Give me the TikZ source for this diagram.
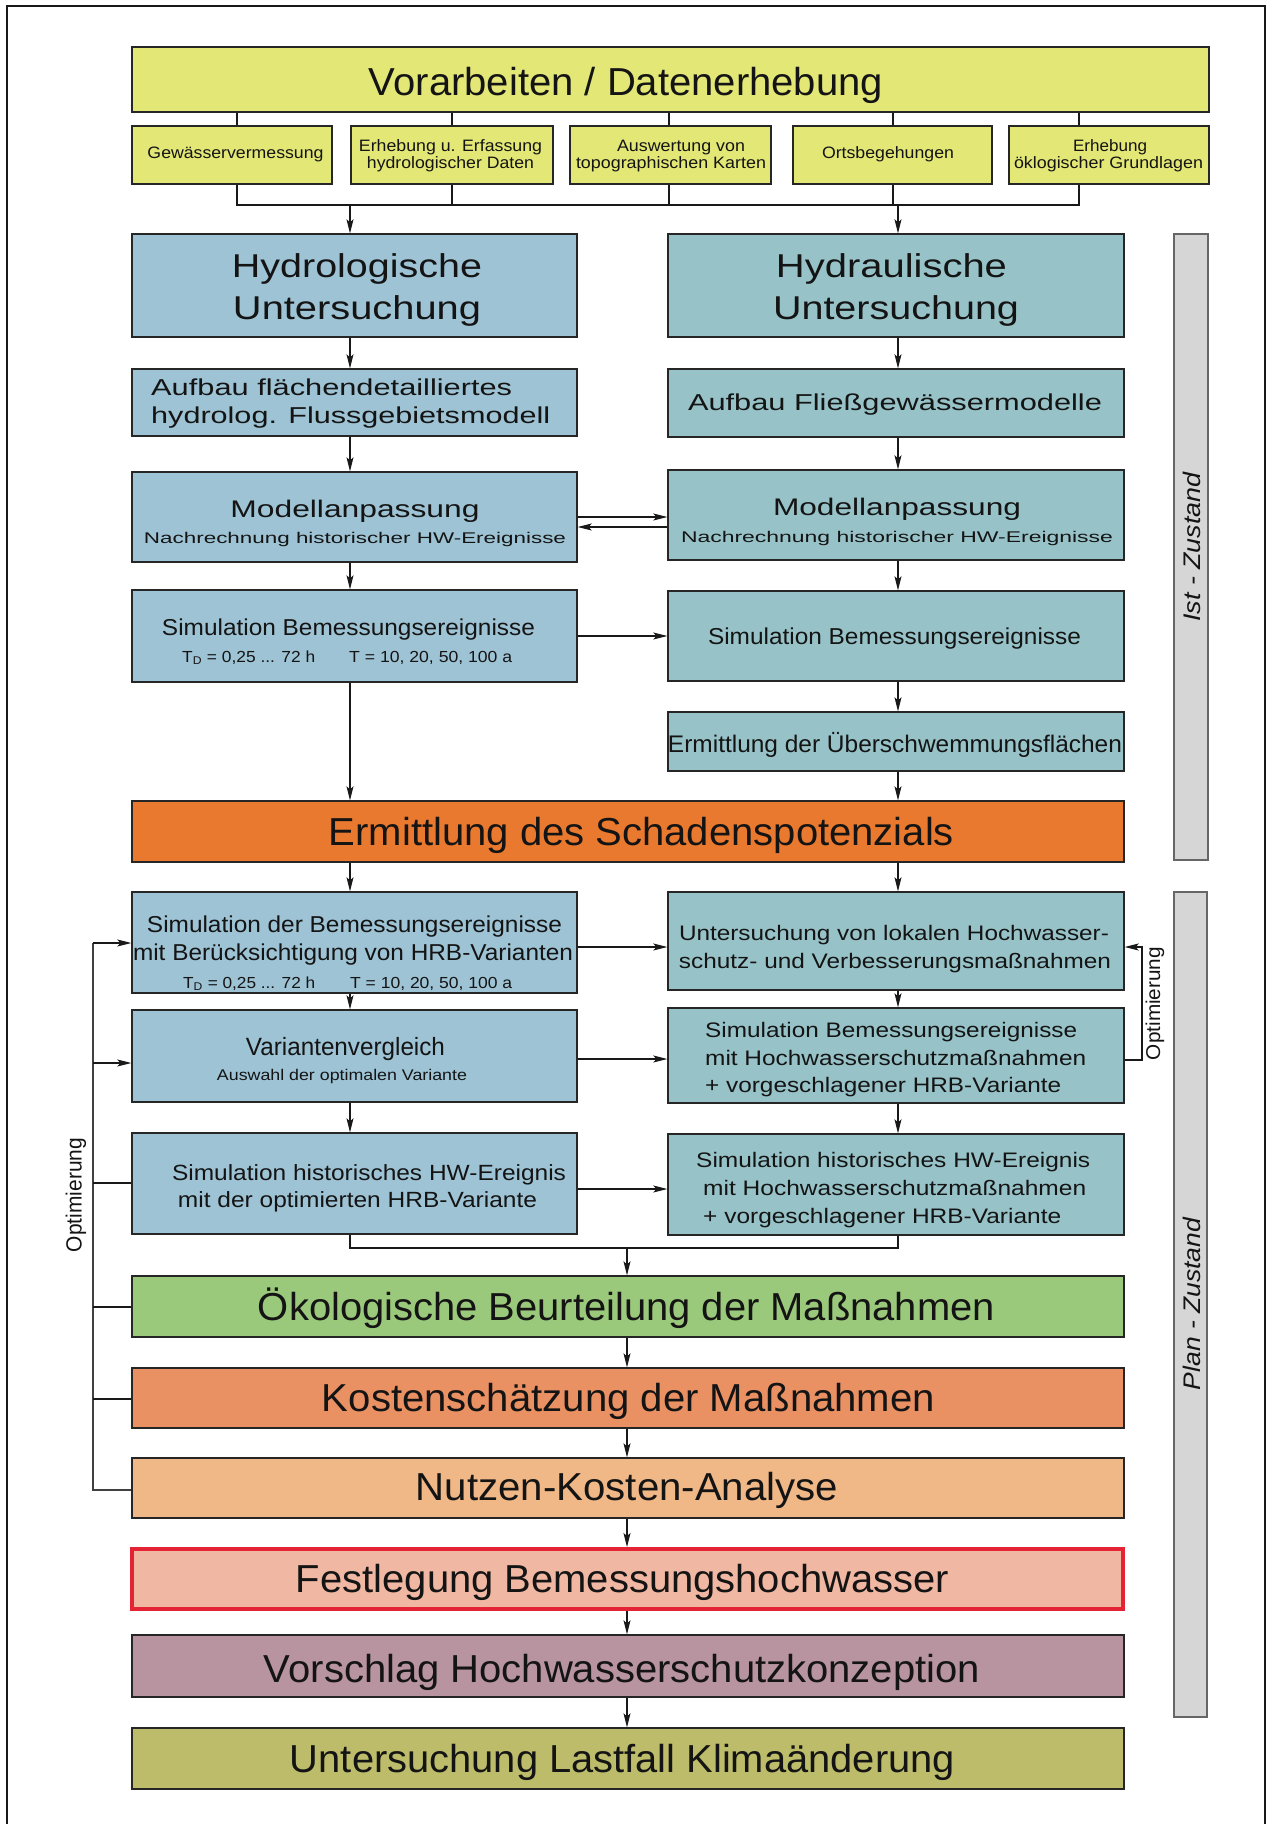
\documentclass[tikz,border=0pt]{standalone}
\usepackage{fontspec}
\setmainfont{Liberation Sans}
\usepackage{graphicx}
\usetikzlibrary{arrows.meta,calc}
\definecolor{cYel}{RGB}{227,231,118}
\definecolor{cBL}{RGB}{157,195,212}
\definecolor{cBR}{RGB}{151,195,200}
\definecolor{cSch}{RGB}{233,121,46}
\definecolor{cOko}{RGB}{155,201,123}
\definecolor{cKos}{RGB}{234,145,100}
\definecolor{cNut}{RGB}{240,184,135}
\definecolor{cFes}{RGB}{240,183,163}
\definecolor{cRed}{RGB}{228,35,52}
\definecolor{cVor}{RGB}{183,148,160}
\definecolor{cLst}{RGB}{189,188,106}
\definecolor{cGray}{RGB}{214,214,214}
\newcommand{\fw}[2]{\resizebox{#1pt}{\height}{#2}}
\newcommand{\txc}[5]{\node[tx,anchor=base,font=\fontsize{#3}{#3}\selectfont] (#1) at (#2) {\fw{#4}{#5}};}
\newcommand{\txw}[5]{\node[tx,anchor=base west,font=\fontsize{#3}{#3}\selectfont] (#1) at (#2) {\fw{#4}{#5}};}
\begin{document}
\begin{tikzpicture}[x=1pt,y=-1pt,
  box/.style={draw=black!85,line width=1.4pt,rectangle,inner sep=0pt,anchor=center},
  tx/.style={inner sep=0pt,text=black!92},
  arr/.style={-{Stealth[length=14pt,width=7pt,inset=3pt]},line width=1.1pt,draw=black!90},
  ln/.style={line width=1.1pt,draw=black!90},
  bar/.style={draw=black!60,line width=1.2pt,fill=cGray,rectangle,inner sep=0pt,anchor=center}]
\useasboundingbox (0,0) rectangle (1269,1824);
\fill[white] (0,0) rectangle (1269,1824);
% frame
\draw[line width=2.5pt,black!90] (7,1830) -- (7,6) -- (1265,6) -- (1265,1830);

% gray bars
\node[bar,minimum width=34pt,minimum height=626pt] (ist) at (1191,547) {};
\node[bar,minimum width=33pt,minimum height=825pt] (plan) at (1190.5,1304.5) {};
\node[tx,rotate=90,font=\fontsize{24}{24}\selectfont\itshape] (tist) at (1192,547) {\fw{149}{Ist - Zustand}};
\node[tx,rotate=90,font=\fontsize{24}{24}\selectfont\itshape] (tplan) at (1192,1304) {\fw{172}{Plan - Zustand}};

% boxes
\node[box,fill=cYel,minimum width=1077pt,minimum height=65pt] (vor) at (670.5,79.5) {};
\node[box,fill=cYel,minimum width=200pt,minimum height=58pt] (s1) at (232,155) {};
\node[box,fill=cYel,minimum width=202pt,minimum height=58pt] (s2) at (452,155) {};
\node[box,fill=cYel,minimum width=201pt,minimum height=58pt] (s3) at (670.5,155) {};
\node[box,fill=cYel,minimum width=199pt,minimum height=58pt] (s4) at (892.5,155) {};
\node[box,fill=cYel,minimum width=200pt,minimum height=58pt] (s5) at (1109,155) {};
\node[box,fill=cBL,minimum width=445pt,minimum height=103pt] (hyl) at (354.5,285.5) {};
\node[box,fill=cBR,minimum width=456pt,minimum height=103pt] (hyr) at (896,285.5) {};
\node[box,fill=cBL,minimum width=445pt,minimum height=67pt] (aul) at (354.5,402.5) {};
\node[box,fill=cBR,minimum width=456pt,minimum height=68pt] (aur) at (896,403) {};
\node[box,fill=cBL,minimum width=445pt,minimum height=90pt] (mal) at (354.5,517) {};
\node[box,fill=cBR,minimum width=456pt,minimum height=90pt] (mar) at (896,515) {};
\node[box,fill=cBL,minimum width=445pt,minimum height=92pt] (sbl) at (354.5,636) {};
\node[box,fill=cBR,minimum width=456pt,minimum height=90pt] (sbr) at (896,636) {};
\node[box,fill=cBR,minimum width=456pt,minimum height=59pt] (ueb) at (896,741.5) {};
\node[box,fill=cSch,minimum width=992pt,minimum height=61pt] (sch) at (628,831.5) {};
\node[box,fill=cBL,minimum width=445pt,minimum height=101pt] (hrb) at (354.5,942.5) {};
\node[box,fill=cBR,minimum width=456pt,minimum height=98pt] (unt) at (896,941) {};
\node[box,fill=cBL,minimum width=445pt,minimum height=92pt] (var) at (354.5,1056) {};
\node[box,fill=cBR,minimum width=456pt,minimum height=95pt] (shw) at (896,1055.5) {};
\node[box,fill=cBL,minimum width=445pt,minimum height=101pt] (shl) at (354.5,1183.5) {};
\node[box,fill=cBR,minimum width=456pt,minimum height=101pt] (shr) at (896,1184.5) {};
\node[box,fill=cOko,minimum width=992pt,minimum height=61pt] (oko) at (628,1306.5) {};
\node[box,fill=cKos,minimum width=992pt,minimum height=60pt] (kos) at (628,1398) {};
\node[box,fill=cNut,minimum width=992pt,minimum height=60pt] (nut) at (628,1488) {};
\node[box,fill=cFes,draw=cRed,line width=4pt,minimum width=991pt,minimum height=60pt] (fes) at (627.5,1579) {};
\node[box,fill=cVor,minimum width=992pt,minimum height=62pt] (vsc) at (628,1666) {};
\node[box,fill=cLst,minimum width=992pt,minimum height=61pt] (lst) at (628,1758.5) {};

% texts
\txc{tvor}{626,95}{39}{514}{Vorarbeiten / Datenerhebung}
\txc{ts1}{235.5,158.5}{16.5}{176}{Gewässervermessung}
\txc{ts2a}{450.5,151.7}{16.5}{183}{Erhebung u. Erfassung}
\txc{ts2b}{450.5,168.3}{16.5}{167}{hydrologischer Daten}
\txc{ts3a}{681,151.7}{16.5}{128}{Auswertung von}
\txc{ts3b}{671,168.3}{16.5}{190}{topographischen Karten}
\txc{ts4}{888,158.5}{16.5}{132}{Ortsbegehungen}
\txc{ts5a}{1110,151.7}{16.5}{74}{Erhebung}
\txc{ts5b}{1108.5,168.3}{16.5}{189}{öklogischer Grundlagen}

\txc{thyla}{357,277}{33}{250}{Hydrologische}
\txc{thylb}{357,319.5}{33}{248}{Untersuchung}
\txc{thyra}{891.5,277}{33}{231}{Hydraulische}
\txc{thyrb}{896,319.5}{33}{246}{Untersuchung}

\txw{taula}{151,395}{23}{361}{Aufbau flächendetailliertes}
\txw{taulb}{151,423}{23}{399}{hydrolog. Flussgebietsmodell}
\txc{taur}{895,410}{23}{414}{Aufbau Fließgewässermodelle}

\txc{tmala}{355,517}{24}{249}{Modellanpassung}
\txc{tmalb}{355,543}{15.5}{422}{Nachrechnung historischer HW-Ereignisse}
\txc{tmara}{897,515}{24}{248}{Modellanpassung}
\txc{tmarb}{897,542}{15.5}{432}{Nachrechnung historischer HW-Ereignisse}

\txc{tsbla}{348.5,635}{23}{373}{Simulation Bemessungsereignisse}
\txw{tsblb}{182,662}{16}{133}{T\textsubscript{D} = 0,25 ... 72 h}
\txw{tsblc}{349,662}{16}{163}{T = 10, 20, 50, 100 a}
\txc{tsbr}{894.5,644}{23}{373}{Simulation Bemessungsereignisse}

\txc{tueb}{895,752}{24}{454}{Ermittlung der Überschwemmungsflächen}
\txc{tsch}{641.5,845.5}{39}{625}{Ermittlung des Schadenspotenzials}

\txc{thrba}{354.5,932}{23}{415}{Simulation der Bemessungsereignisse}
\txc{thrbb}{353,960}{23}{440}{mit Berücksichtigung von HRB-Varianten}
\txw{thrbc}{183,988}{16}{132}{T\textsubscript{D} = 0,25 ... 72 h}
\txw{thrbd}{350,988}{16}{162}{T = 10, 20, 50, 100 a}

\txc{tunta}{894,940}{21}{430}{Untersuchung von lokalen Hochwasser-}
\txc{tuntb}{895,968}{21}{432}{schutz- und Verbesserungsmaßnahmen}

\txc{tvara}{345.5,1055}{25}{199}{Variantenvergleich}
\txc{tvarb}{342,1080}{15.5}{250}{Auswahl der optimalen Variante}

\txw{tshwa}{705,1037}{21}{372}{Simulation Bemessungsereignisse}
\txw{tshwb}{705,1065}{21}{381}{mit Hochwasserschutzmaßnahmen}
\txw{tshwc}{705,1092}{21}{356}{+ vorgeschlagener HRB-Variante}

\txc{tshla}{369,1180}{22}{394}{Simulation historisches HW-Ereignis}
\txc{tshlb}{357.5,1207}{22}{359}{mit der optimierten HRB-Variante}

\txw{tshra}{696,1167}{21}{394}{Simulation historisches HW-Ereignis}
\txw{tshrb}{703,1195}{21}{383}{mit Hochwasserschutzmaßnahmen}
\txw{tshrc}{703,1223}{21}{358}{+ vorgeschlagener HRB-Variante}

\txc{toko}{626.5,1320}{39}{737}{Ökologische Beurteilung der Maßnahmen}
\txc{tkos}{628.5,1411}{39}{613}{Kostenschätzung der Maßnahmen}
\txc{tnut}{627,1500}{39}{422}{Nutzen-Kosten-Analyse}
\txc{tfes}{622.5,1592}{39}{653}{Festlegung Bemessungshochwasser}
\txc{tvsc}{622,1682}{39}{716}{Vorschlag Hochwasserschutzkonzeption}
\txc{tlst}{622.5,1772}{39}{665}{Untersuchung Lastfall Klimaänderung}

\node[tx,rotate=90,font=\fontsize{20}{20}\selectfont] (topr) at (1155,1003.5) {\fw{113}{Optimierung}};
\node[tx,rotate=90,font=\fontsize{22}{22}\selectfont] (topl) at (76,1195) {\fw{114}{Optimierung}};

% helper coordinates
\coordinate (k1) at (237,0);
\coordinate (k2) at (452,0);
\coordinate (k3) at (669,0);
\coordinate (k4) at (893,0);
\coordinate (k5) at (1079,0);
\coordinate (busa) at (0,205);
\coordinate (xl) at (350,0);
\coordinate (xr) at (898,0);
\coordinate (xc) at (627,0);
\coordinate (busb) at (0,1248);
\coordinate (ya) at (0,517);
\coordinate (yb) at (0,527);
\coordinate (yc) at (0,636);
\coordinate (yd) at (0,947);
\coordinate (ye) at (0,1059);
\coordinate (yf) at (0,1189);
\coordinate (yg) at (0,1060);
\coordinate (rl) at (1142,0);
\coordinate (ll) at (93,0);
\coordinate (yl1) at (0,943);
\coordinate (yl2) at (0,1063);
\coordinate (yl3) at (0,1183);
\coordinate (yl4) at (0,1307);
\coordinate (yl5) at (0,1399);
\coordinate (yl6) at (0,1490);

% top connectors
\draw[ln] (vor.south -| k1) -- (s1.north -| k1);
\draw[ln] (vor.south -| k2) -- (s2.north -| k2);
\draw[ln] (vor.south -| k3) -- (s3.north -| k3);
\draw[ln] (vor.south -| k4) -- (s4.north -| k4);
\draw[ln] (vor.south -| k5) -- (s5.north -| k5);
\draw[ln] (s1.south -| k1) -- (k1 |- busa) -- (k5 |- busa) -- (s5.south -| k5);
\draw[ln] (s2.south -| k2) -- (k2 |- busa);
\draw[ln] (s3.south -| k3) -- (k3 |- busa);
\draw[ln] (s4.south -| k4) -- (k4 |- busa);
\draw[arr] (xl |- busa) -- (hyl.north -| xl);
\draw[arr] (xr |- busa) -- (hyr.north -| xr);

% left column
\draw[arr] (hyl.south -| xl) -- (aul.north -| xl);
\draw[arr] (aul.south -| xl) -- (mal.north -| xl);
\draw[arr] (mal.south -| xl) -- (sbl.north -| xl);
\draw[arr] (sbl.south -| xl) -- (sch.north -| xl);
% right column
\draw[arr] (hyr.south -| xr) -- (aur.north -| xr);
\draw[arr] (aur.south -| xr) -- (mar.north -| xr);
\draw[arr] (mar.south -| xr) -- (sbr.north -| xr);
\draw[arr] (sbr.south -| xr) -- (ueb.north -| xr);
\draw[arr] (ueb.south -| xr) -- (sch.north -| xr);
% horizontal
\draw[arr] (mal.east |- ya) -- (mar.west |- ya);
\draw[arr] (mar.west |- yb) -- (mal.east |- yb);
\draw[arr] (sbl.east |- yc) -- (sbr.west |- yc);

% plan section
\draw[arr] (sch.south -| xl) -- (hrb.north -| xl);
\draw[arr] (sch.south -| xr) -- (unt.north -| xr);
\draw[arr] (hrb.east |- yd) -- (unt.west |- yd);
\draw[arr] (hrb.south -| xl) -- (var.north -| xl);
\draw[arr] (unt.south -| xr) -- (shw.north -| xr);
\draw[arr] (var.east |- ye) -- (shw.west |- ye);
\draw[arr] (var.south -| xl) -- (shl.north -| xl);
\draw[arr] (shw.south -| xr) -- (shr.north -| xr);
\draw[arr] (shl.east |- yf) -- (shr.west |- yf);
\draw[ln] (shl.south -| xl) -- (xl |- busb) -- (xr |- busb) -- (shr.south -| xr);
\draw[arr] (xc |- busb) -- (oko.north -| xc);
\draw[arr] (oko.south -| xc) -- (kos.north -| xc);
\draw[arr] (kos.south -| xc) -- (nut.north -| xc);
\draw[arr] (nut.south -| xc) -- (fes.north -| xc);
\draw[arr] (fes.south -| xc) -- (vsc.north -| xc);
\draw[arr] (vsc.south -| xc) -- (lst.north -| xc);

% right optimisation loop
\draw[arr] (shw.east |- yg) -- (rl |- yg) -- (rl |- yd) -- (unt.east |- yd);

% left optimisation loop
\draw[ln,line width=1.4pt,draw=black!75] (nut.west |- yl6) -- (ll |- yl6) -- (ll |- yl1);
\draw[arr] (ll |- yl1) -- (hrb.west |- yl1);
\draw[arr] (ll |- yl2) -- (var.west |- yl2);
\draw[ln] (ll |- yl3) -- (shl.west |- yl3);
\draw[ln] (ll |- yl4) -- (oko.west |- yl4);
\draw[ln] (ll |- yl5) -- (kos.west |- yl5);
\end{tikzpicture}
\end{document}
